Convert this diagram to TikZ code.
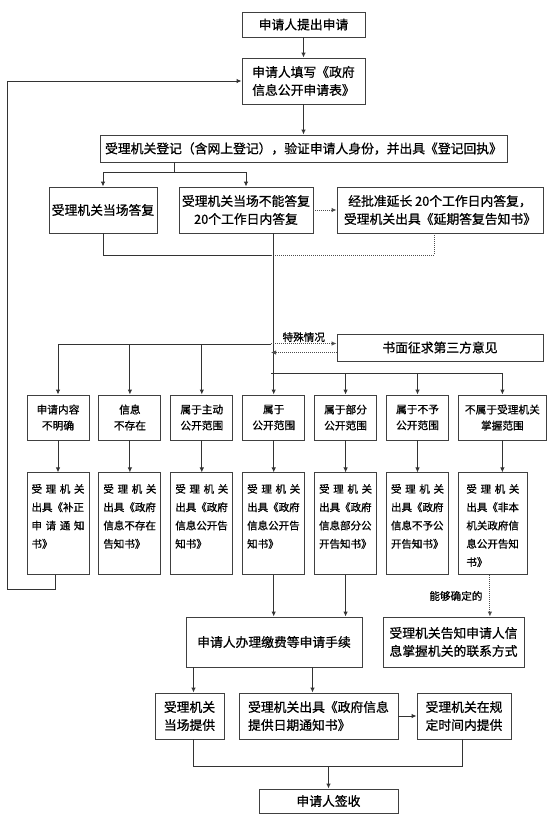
\documentclass[tikz,border=0pt]{standalone}
\usepackage{fontspec}
\setmainfont{Noto Sans CJK SC}[FakeBold=0.8]
\usetikzlibrary{arrows.meta,positioning}

\newcommand\boxfont{\fontsize{12.8pt}{18pt}\selectfont}
\newcommand\condfont{\fontsize{10.7pt}{16pt}\selectfont}
\newcommand\noticefont{\fontsize{10.5pt}{18.3pt}\selectfont}
\newcommand\tagfont{\fontsize{10.6pt}{12pt}\selectfont}
\newcommand\spread[1]{\makebox[\linewidth][s]{#1}}
\newcommand\notetext[1]{\parbox[c][102pt][t]{53pt}{\raggedright\rule{0pt}{20pt}#1}}

\begin{document}
\begin{tikzpicture}[
  x=1pt, y=-1pt,
  >={Latex[length=5pt,width=4.5pt]},
  box/.style={draw=black!75, line width=0.9pt, align=center, inner sep=2pt, font=\boxfont},
  cond/.style={box, minimum width=62pt, minimum height=45pt, font=\condfont},
  notice/.style={box, minimum width=62pt, minimum height=102pt, inner sep=0pt, font=\noticefont},
  line/.style={->, draw=black!80, line width=0.9pt},
  link/.style={draw=black!80, line width=0.9pt},
  dotline/.style={draw=black!70, line width=0.9pt, dash pattern=on 1pt off 1pt},
  dotarrow/.style={dotline, ->},
  tag/.style={font=\tagfont, inner sep=1pt}
]
  \useasboundingbox (0,0) rectangle (552,823);

  % application and registration
  \node[box, minimum width=123pt, minimum height=25pt] (apply) at (303.5,24.5) {申请人提出申请};
  \node[box, minimum width=123pt, minimum height=46pt] (fill) at (303.5,81) {申请人填写《政府\\信息公开申请表》};
  \node[box, minimum width=407pt, minimum height=27pt] (register) at (303.5,148.5) {受理机关登记（含网上登记），验证申请人身份，并出具《登记回执》};

  \node[box, minimum width=108pt, minimum height=46pt] (reply) at (103,210) {受理机关当场答复};
  \node[box, minimum width=134pt, minimum height=46pt] (wait) at (246,210) {受理机关当场不能答复\\20个工作日内答复};
  \node[box, minimum width=206pt, minimum height=46pt] (extend) at (440,210) {经批准延长 20个工作日内答复，\\受理机关出具《延期答复告知书》};
  \node[box, minimum width=206pt, minimum height=27pt] (third) at (440,347.5) {书面征求第三方意见};

  % cases
  \node[cond] (c1) at (58,417.5) {申请内容\\不明确};
  \node[cond, right=9pt of c1] (c2) {信息\\不存在};
  \node[cond, right=9pt of c2] (c3) {属于主动\\公开范围};
  \node[cond, right=9pt of c3] (c4) {属于\\公开范围};
  \node[cond, right=9pt of c4] (c5) {属于部分\\公开范围};
  \node[cond, right=9pt of c5] (c6) {属于不予\\公开范围};
  \node[cond, right=9pt of c6, minimum width=88pt] (c7) {不属于受理机关\\掌握范围};

  % notices
  \node[notice, below=32pt of c1] (n1) {\notetext{\spread{受\hfil 理\hfil 机\hfil 关}\\出具《补正\\\spread{申\hfil 请\hfil 通\hfil 知}\\书》}};
  \node[notice, below=32pt of c2] (n2) {\notetext{\spread{受\hfil 理\hfil 机\hfil 关}\\出具《政府\\信息不存在\\告知书》}};
  \node[notice, below=32pt of c3] (n3) {\notetext{\spread{受\hfil 理\hfil 机\hfil 关}\\出具《政府\\信息公开告\\知书》}};
  \node[notice, below=32pt of c4] (n4) {\notetext{\spread{受\hfil 理\hfil 机\hfil 关}\\出具《政府\\信息公开告\\知书》}};
  \node[notice, below=32pt of c5] (n5) {\notetext{\spread{受\hfil 理\hfil 机\hfil 关}\\出具《政府\\信息部分公\\开告知书》}};
  \node[notice, below=32pt of c6] (n6) {\notetext{\spread{受\hfil 理\hfil 机\hfil 关}\\出具《政府\\信息不予公\\开告知书》}};
  \node[notice, minimum width=69pt, anchor=north west] (n7) at ([yshift=-32pt]c7.south west) {\notetext{\spread{受\hfil 理\hfil 机\hfil 关}\\出具《非本\\机关政府信\\息公开告知\\书》}};

  % providing
  \node[box, minimum width=176pt, minimum height=50pt] (pay) at (274,642) {申请人办理缴费等申请手续};
  \node[box, minimum width=141pt, minimum height=50pt] (inform) at (453.5,642) {受理机关告知申请人信\\息掌握机关的联系方式};
  \node[box, minimum width=69pt, minimum height=46pt] (onsite) at (189.5,716) {受理机关\\当场提供};
  \node[box, minimum width=159pt, minimum height=46pt, align=left] (datenote) at (318.5,716) {受理机关出具《政府信息\\提供日期通知书》};
  \node[box, minimum width=94pt, minimum height=46pt] (intime) at (464,716) {受理机关在规\\定时间内提供};
  \node[box, minimum width=139pt, minimum height=24pt] (sign) at (328.5,801) {申请人签收};

  \coordinate (split) at (174,172);
  \coordinate (merge) at (271,255);
  \coordinate (lsplit) at (271,344);
  \coordinate (rsplit) at (271,373);
  \coordinate (askin) at ([yshift=4pt]third.west);
  \coordinate (askout) at ([yshift=-5pt]third.west);
  \coordinate (found) at ([xshift=-3pt]n7.south);
  \coordinate (pickup) at ([xshift=4pt]onsite.north);
  \coordinate (notedrop) at ([xshift=-6pt]datenote.north);
  \coordinate (join) at (328.5,766);
  \coordinate (loop) at (7,589);

  \draw[line] (apply) -- (fill);
  \draw[line] (fill) -- (register);
  \draw[link] (split |- register.south) -- (split);
  \draw[line] (split) -| (reply.north);
  \draw[line] (split) -| (wait.north);
  \draw[dotarrow] (wait) -- (extend);

  \draw[link] (reply.south) |- (merge);
  \draw[dotline] ([xshift=-6pt]extend.south) |- (merge);
  \draw[line] (wait.south -| c4.north) -- (c4.north);
  \foreach \c in {c1,c2,c3} \draw[line] (lsplit) -| (\c.north);
  \foreach \c in {c5,c6,c7} \draw[line] (rsplit) -| (\c.north);
  \draw[dotarrow] (lsplit |- askin) -- node[tag, above] {特殊情况} (askin);
  \draw[dotarrow] (askout) -- (askout -| lsplit);

  \foreach \i in {1,...,6} \draw[line] (c\i) -- (n\i);
  \draw[line] (c7.south) -- (c7.south |- n7.north);
  \draw[line] ([xshift=-3pt]n1.south) |- (loop) |- (fill.west);

  \draw[line] (n4.south) -- (n4.south |- pay.north);
  \draw[line] (n5.south) -- (n5.south |- pay.north);
  \draw[dotarrow] (found) -- node[tag, left=6pt] {能够确定的} (found |- inform.north);

  \draw[line] (pickup |- pay.south) -- (pickup);
  \draw[line] (notedrop |- pay.south) -- (notedrop);
  \draw[line] (datenote) -- (intime);
  \draw[link] ([xshift=4pt]onsite.south) |- (join) -| ([xshift=-2pt]intime.south);
  \draw[line] (join) -- (sign);
\end{tikzpicture}
\end{document}
